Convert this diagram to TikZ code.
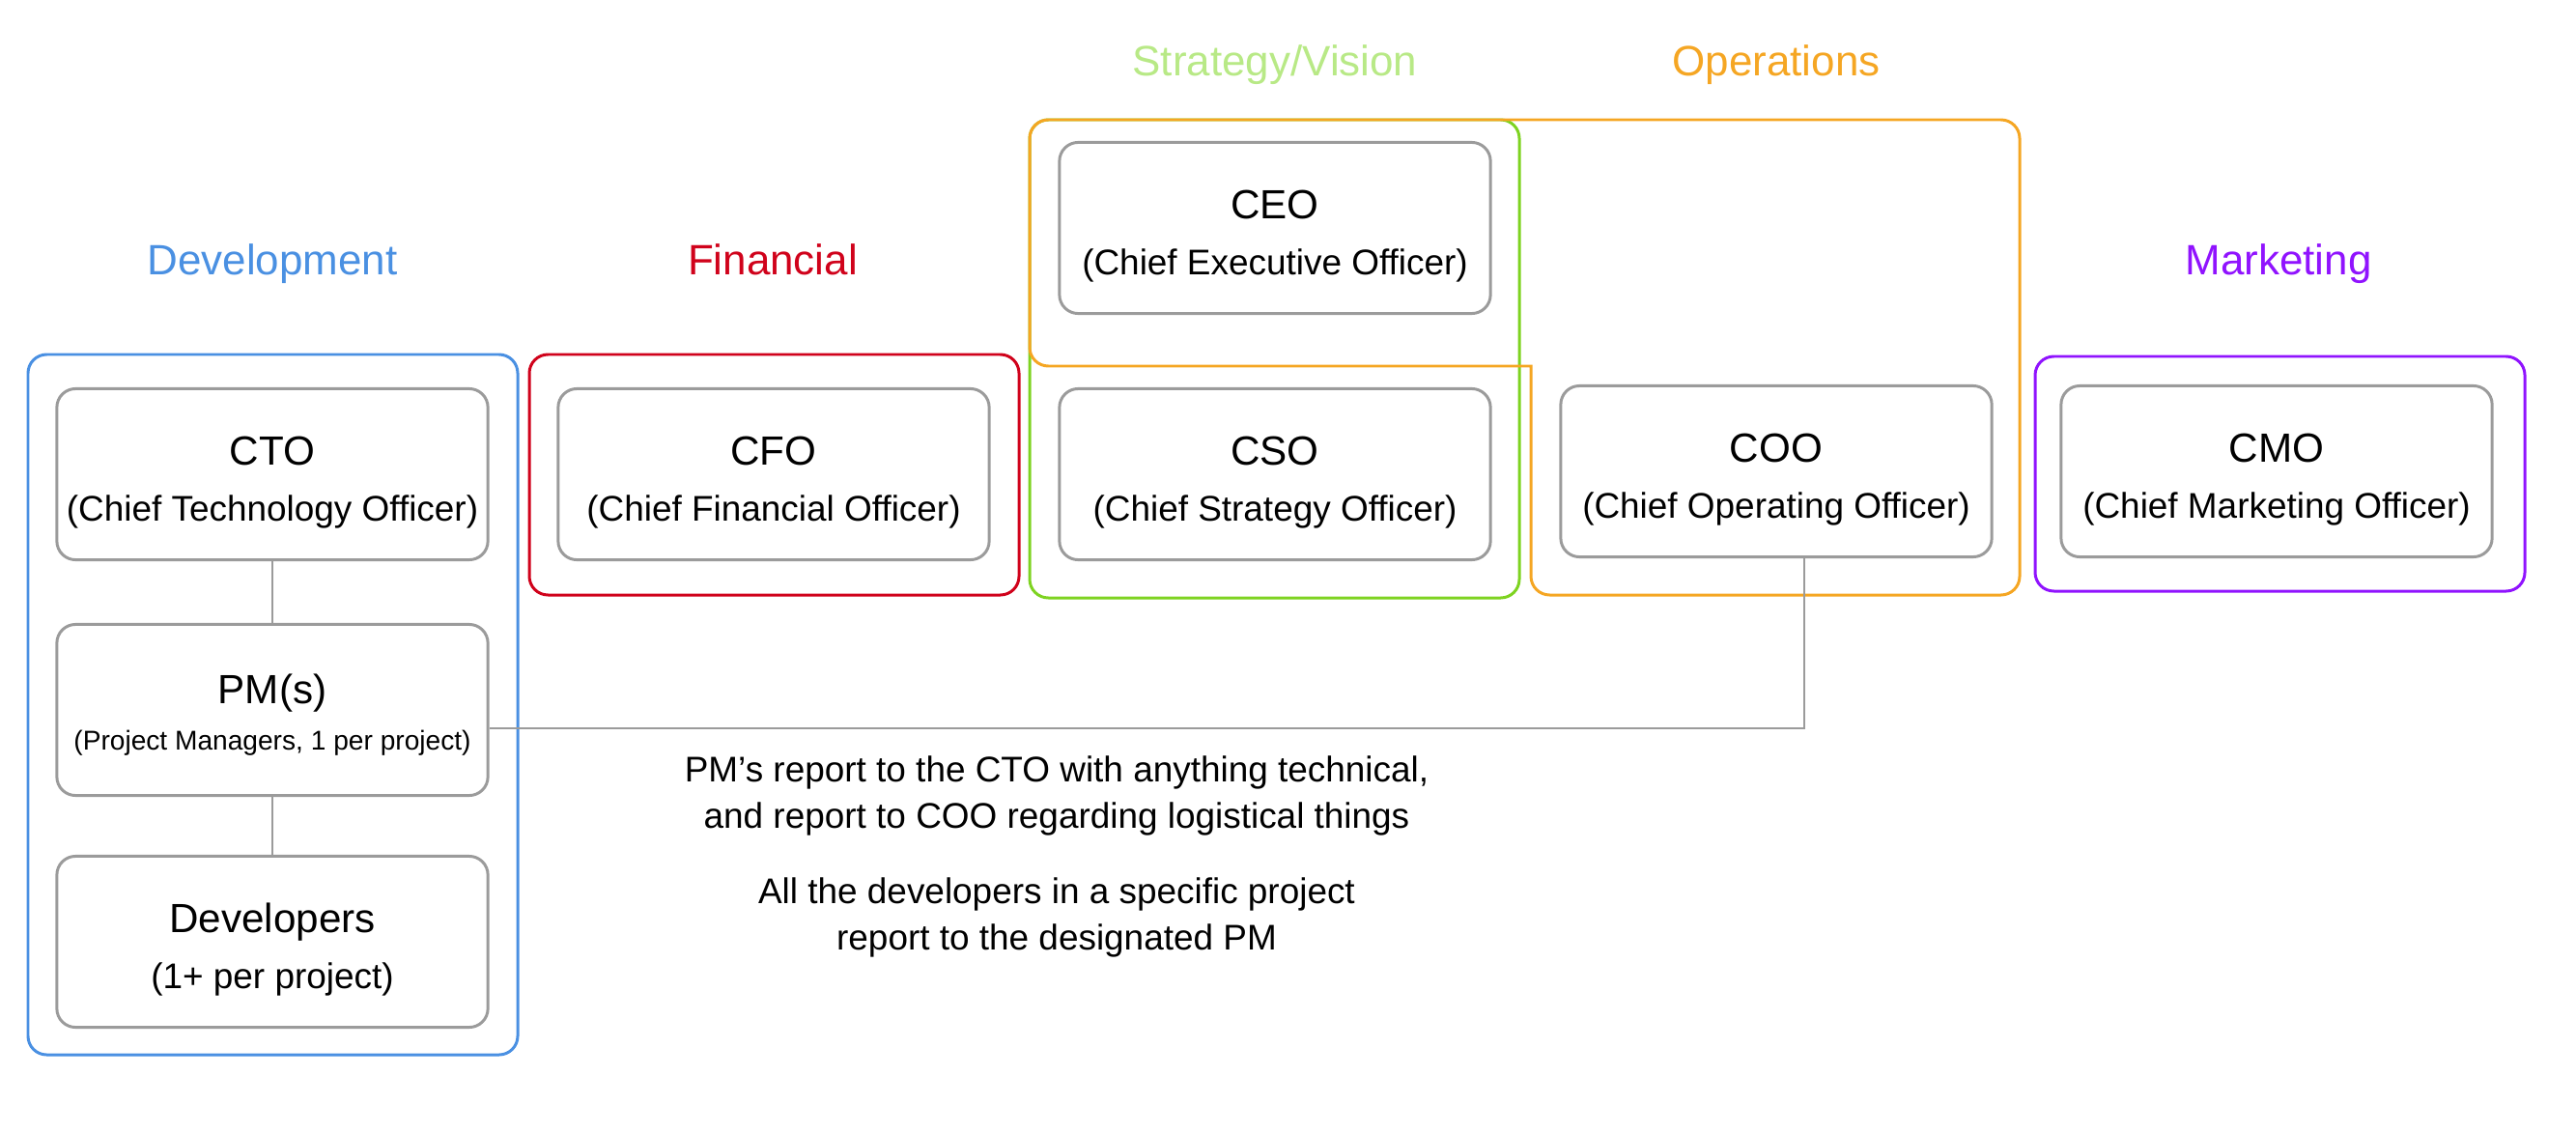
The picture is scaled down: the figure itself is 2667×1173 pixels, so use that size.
\documentclass[tikz,border=0pt]{standalone}
\usepackage{fontspec}
\setmainfont{Liberation Sans}
\usetikzlibrary{positioning}
\definecolor{devblue}{HTML}{4A90E2}
\definecolor{finred}{HTML}{D0021B}
\definecolor{stratgreen}{HTML}{7ED321}
\definecolor{stratlight}{HTML}{B8E986}
\definecolor{opsorange}{HTML}{F5A623}
\definecolor{mktpurple}{HTML}{9013FE}
\definecolor{rolegray}{HTML}{9B9B9B}
\newcommand{\rolesub}[1]{{\fontsize{10.5}{12}\selectfont #1}}
\tikzset{
  role/.style={draw=rolegray, line width=0.85pt, rounded corners=5.5pt, align=center, inner sep=0pt,
    minimum width=4.46cm, minimum height=1.77cm, font=\fontsize{12}{16.5}\selectfont,
    text height=29.5pt},
  group/.style={line width=0.85pt, rounded corners=5.5pt},
  title/.style={font=\fontsize{12.5}{15}\selectfont, text height=9pt, text depth=2.5pt},
  link/.style={draw=rolegray, line width=0.6pt},
  note/.style={align=center, font=\fontsize{10.5}{13.5}\selectfont}
}

\begin{document}
\begin{tikzpicture}[x=0.01cm, y=-0.01cm]
\useasboundingbox (0,0) rectangle (2667,1173);
% groups
\draw[group, draw=devblue] (29,367) rectangle (536,1092);
\draw[group, draw=finred] (548,367) rectangle (1055,616);
\draw[group, draw=stratgreen] (1066,124) rectangle (1573,619);
\draw[group, draw=opsorange, line cap=rect] (1585,379) -- (1066,379) -- (1066,124) -- (2091,124)
  -- (2091,616) -- (1585,616) -- (1585,379);
\draw[group, draw=mktpurple] (2107,369) rectangle (2614,612);
\node[title, text=devblue] (devtitle) at (282,273) {Development};
\node[title, text=finred] (fintitle) at (800,273) {Financial};
\node[title, text=stratlight] (strattitle) at (1320,67) {Strategy/Vision};
\node[title, text=opsorange] (opstitle) at (1839,67) {Operations};
\node[title, text=mktpurple] (mkttitle) at (2359,273) {Marketing};
% roles
\node[role] (cto) at (282,491) {CTO\\\rolesub{(Chief Technology Officer)}};
\node[role, text height=25.1pt] (pm) at (282,735) {PM(s)\\[-2.9pt]{\fontsize{8}{10}\selectfont (Project Managers, 1 per project)}};
\node[role] (dev) at (282,975) {Developers\\\rolesub{(1+ per project)}};
\node[role] (cfo) at (801,491) {CFO\\\rolesub{(Chief Financial Officer)}};
\node[role] (ceo) at (1320,236) {CEO\\\rolesub{(Chief Executive Officer)}};
\node[role] (cso) at (1320,491) {CSO\\\rolesub{(Chief Strategy Officer)}};
\node[role] (coo) at (1839,488) {COO\\\rolesub{(Chief Operating Officer)}};
\node[role] (cmo) at (2357,488) {CMO\\\rolesub{(Chief Marketing Officer)}};
\draw[link] (cto) -- (pm);
\draw[link] (pm) -- (dev);
\draw[link] ([yshift=-0.19cm]pm.east) -| ([xshift=0.29cm]coo.south);
% notes
\node[note] (note1) at (1094,824) {PM’s report to the CTO with anything technical,\\and report to COO regarding logistical things};
\node[note] (note2) at (1094,950) {All the developers in a specific project\\report to the designated PM};
\end{tikzpicture}
\end{document}
